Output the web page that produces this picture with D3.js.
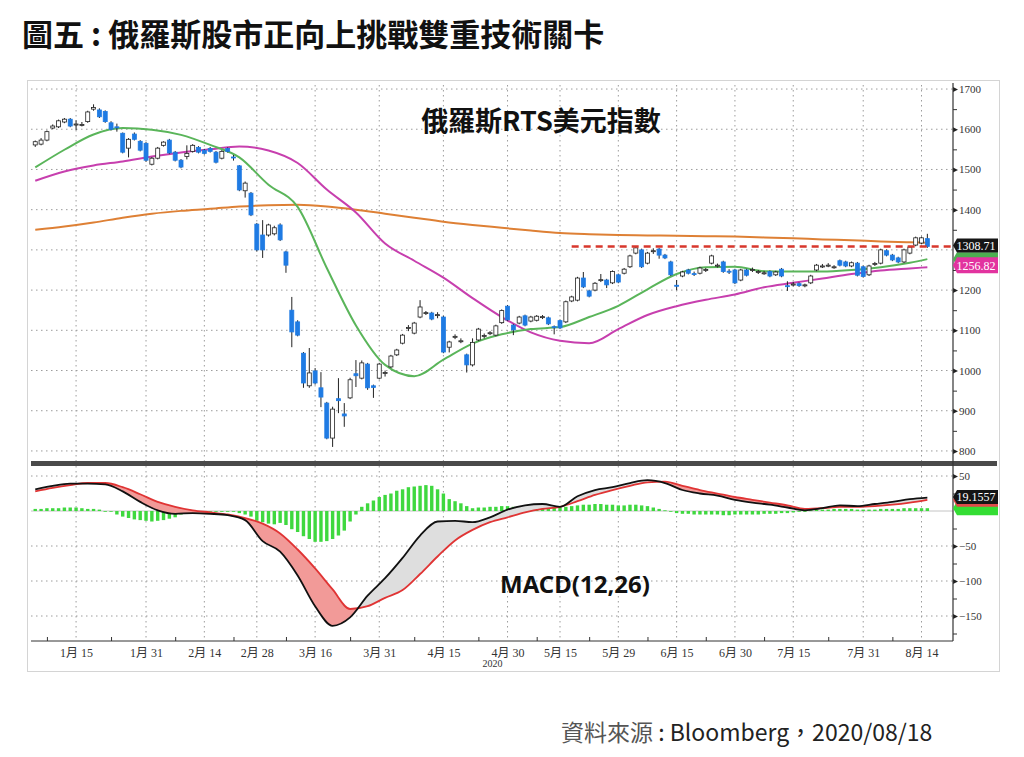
<!DOCTYPE html>
<html>
<head>
<meta charset="utf-8">
<script src="https://cdn.jsdelivr.net/npm/d3@7"></script>
<style>
  body { margin: 0; background: #fff; }
</style>
</head>
<body>
<svg></svg>
<script>
// trading calendar: weekdays from Jan 3 to Aug 17 2020, minus Moscow exchange holidays
const holidays = ["2020-01-07", "2020-02-24", "2020-03-09", "2020-05-01", "2020-05-11", "2020-06-12", "2020-06-24", "2020-07-01"];
const tickDates = ["2020-01-15", "2020-01-31", "2020-02-14", "2020-02-28", "2020-03-16", "2020-03-31", "2020-04-15", "2020-04-30",
  "2020-05-15", "2020-05-29", "2020-06-15", "2020-06-30", "2020-07-15", "2020-07-31", "2020-08-14"];

// daily candles (RTS index, USD)
const opens = [1561,1563,1573,1603,1606,1618,1625,1612,1610,1619,1650,1648,1644,1616,1606,1590,1553,1588,1570,1565,
  1513,1528,1560,1573,1543,1523,1532,1545,1555,1548,1552,1543,1528,1552,1531,1509,1447,1441,1364,1337,
  1337,1340,1362,1295,1150,1121,1043,962,999,957,919,832,930,892,932,992,981,1016,962,981,
  993,1009,1039,1068,1105,1093,1133,1142,1143,1137,1133,1058,1083,1072,1039,1014,1076,1085,1092,1088,
  1119,1160,1113,1118,1136,1123,1125,1132,1131,1109,1124,1121,1173,1175,1230,1198,1200,1224,1225,1218,
  1238,1242,1258,1292,1300,1267,1296,1302,1287,1270,1212,1235,1250,1241,1242,1249,1267,1261,1270,1247,
  1250,1225,1250,1249,1244,1242,1246,1238,1252,1211,1214,1216,1211,1218,1250,1259,1261,1257,1273,1270,
  1260,1267,1258,1238,1264,1267,1298,1287,1280,1270,1292,1312,1317,1328];
const highs = [1572,1578,1597,1612,1624,1628,1628,1622,1618,1646,1662,1652,1647,1620,1614,1592,1578,1592,1573,1568,
  1531,1556,1570,1576,1546,1526,1560,1563,1558,1551,1556,1546,1548,1555,1536,1511,1470,1444,1367,1374,
  1365,1360,1366,1298,1183,1125,1046,1056,1006,996,922,910,981,919,982,1026,1025,1019,965,1019,
  1000,1039,1054,1091,1113,1121,1175,1148,1146,1145,1136,1074,1090,1080,1042,1080,1106,1092,1098,1114,
  1152,1163,1116,1136,1139,1136,1138,1138,1134,1112,1127,1174,1186,1233,1245,1201,1220,1240,1228,1249,
  1241,1255,1288,1308,1303,1295,1304,1305,1290,1273,1225,1248,1253,1246,1258,1255,1288,1266,1273,1252,
  1253,1253,1253,1256,1250,1248,1249,1248,1255,1222,1220,1219,1216,1238,1265,1265,1267,1262,1276,1273,
  1271,1270,1261,1263,1270,1303,1301,1290,1283,1303,1310,1333,1333,1340];
const lows = [1556,1560,1570,1600,1603,1615,1605,1598,1607,1616,1646,1628,1616,1597,1594,1540,1530,1572,1545,1519,
  1510,1525,1557,1538,1520,1503,1525,1542,1540,1537,1542,1515,1525,1542,1522,1446,1430,1384,1296,1280,
  1333,1336,1322,1243,1058,1085,957,957,965,909,829,810,894,860,929,959,978,952,932,978,
  985,1006,1036,1065,1098,1090,1130,1138,1125,1130,1043,1045,1078,1068,995,1010,1073,1080,1088,1085,
  1116,1123,1088,1115,1110,1120,1122,1128,1113,1090,1103,1118,1170,1172,1205,1182,1197,1220,1205,1215,
  1217,1239,1255,1289,1255,1264,1290,1278,1277,1235,1200,1232,1239,1235,1239,1245,1264,1256,1243,1240,
  1215,1222,1234,1245,1240,1238,1232,1235,1232,1198,1209,1208,1207,1215,1247,1255,1257,1253,1259,1257,
  1257,1234,1231,1235,1260,1264,1284,1272,1267,1267,1289,1309,1314,1305];
const closes = [1569,1573,1594,1608,1621,1625,1608,1613,1612,1643,1654,1631,1619,1600,1604,1543,1575,1575,1548,1523,
  1528,1553,1568,1541,1523,1506,1540,1560,1543,1540,1545,1518,1545,1545,1529,1449,1466,1387,1300,1300,
  1362,1355,1325,1262,1096,1088,969,994,969,934,832,904,925,887,977,987,1019,957,958,1016,
  995,1036,1051,1088,1107,1118,1158,1144,1128,1139,1046,1071,1085,1074,1014,1070,1103,1087,1094,1111,
  1149,1126,1101,1133,1113,1133,1135,1134,1116,1107,1106,1171,1183,1230,1208,1185,1217,1226,1213,1246,
  1220,1252,1285,1305,1258,1292,1298,1287,1280,1238,1210,1245,1242,1240,1255,1251,1285,1262,1246,1246,
  1218,1250,1237,1251,1246,1243,1235,1245,1235,1210,1215,1211,1213,1235,1262,1260,1262,1258,1262,1260,
  1268,1237,1234,1260,1266,1300,1287,1275,1270,1300,1307,1330,1330,1308.71];

// moving averages, sampled every 5 sessions
const maIdx = [0,5,10,15,20,25,30,35,40,45,50,55,60,65,70,75,80,85,90,95,100,105,110,115,120,125,130,135,140,145,150,153];
const maShort = [1505,1549,1587,1603,1599,1586,1561,1530,1462,1407,1255,1112,1014,986,1027,1067,1090,1103,1108,1133,
  1161,1202,1240,1257,1258,1247,1246,1246,1250,1257,1268,1277];
const maMid = [1472,1495,1510,1520,1532,1542,1550,1557,1547,1516,1450,1393,1316,1273,1231,1180,1133,1095,1074,1068,
  1103,1138,1160,1176,1189,1207,1218,1229,1240,1249,1254,1256.82];
const maLong = [1350,1358,1368,1380,1390,1397,1402,1408,1411,1412,1408,1400,1390,1380,1370,1362,1355,1348,1342,1339,
  1337,1336,1335,1334,1333,1331,1329,1326,1324,1321,1319,1318];
const resistLevel = 1308.71;
const resistFrom = 92;

// MACD(12,26), sampled every 3 sessions
const macdIdx = d3.range(0, 154, 3);
const macdVals = [31,36,39,39,38,28,13,1,-4,-3,-4,-6,-13,-43,-58,-92,-136,-164,-152,-121,-96,-67,-35,-15,-14,-16,
  -9,2,8,10,6,21,30,34,40,44,40,30,25,22,16,12,9,5,1,4,8,7,10,13,17,19.1557];
const signalVals = [28,33,37,40,40,34,24,13,6,1,-2,-5,-10,-18,-32,-55,-82,-112,-140,-136,-124,-113,-90,-65,-42,-27,
  -16,-9,-2,3,6,14,23,30,36,41,42,36,30,25,20,16,12,8,3,4,6,6,7,9,12,16];
// daily histogram
const histVals = [3,3,4,4,4,5,5,5,4,3,3,2,0,-1,-5,-8,-10,-12,-13,-14,-15,-14,-13,-11,-9,-5,-3,-2,-1,-1,
  0,0,0,-1,-1,-3,-5,-8,-14,-16,-18,-19,-17,-20,-26,-30,-36,-40,-44,-44,-43,-40,-35,-28,-15,-5,6,11,15,20,
  23,25,29,31,34,35,36,37,36,31,25,17,14,11,7,4,5,5,6,6,7,7,6,6,6,6,7,7,6,5,
  5,6,7,8,9,9,10,10,9,9,8,8,9,9,8,7,5,3,1,-1,-3,-4,-4,-5,-5,-5,-5,-5,-6,-6,
  -5,-5,-5,-5,-5,-4,-4,-4,-3,-3,-2,-1,0,1,2,2,2,3,3,3,3,2,2,2,2,3,3,3,3,4,
  4,4,4,4];

const priceTicks = [800, 900, 1000, 1100, 1200, 1300, 1400, 1500, 1600, 1700];
const priceMinor = [850, 950, 1050, 1150, 1250, 1350, 1450, 1550, 1650];
const macdTicks = [50, 0, -50, -100, -150];
const macdMinor = [25, -25, -75, -125, -175];

const width = 1024;
const height = 757;
const plot = { left: 31, right: 953, top: 83, sep: 461, macdTop: 466, bottom: 641 };

const fmtKey = d3.timeFormat("%Y-%m-%d");
const tradingDays = d3.timeDay
  .range(new Date(2020, 0, 3), new Date(2020, 7, 18))
  .filter((d) => d.getDay() !== 0 && d.getDay() !== 6 && !holidays.includes(fmtKey(d)));
const dayKeys = tradingDays.map(fmtKey);
const tickIdx = tickDates.map((k) => dayKeys.indexOf(k));
const tickLabel = (i) => {
  const d = tradingDays[i];
  return `${d.getMonth() + 1}月 ${d.getDate()}`;
};

const svg = d3.select("svg").attr("width", width).attr("height", height);
svg.append("rect").attr("width", width).attr("height", height).attr("fill", "#fff");

const xScale = d3.scaleLinear().domain([-0.9, 157.4]).range([30, plot.right]);
const yPrice = d3.scaleLinear().domain([775, 1715]).range([plot.sep, plot.top]);
const yMacd = d3.scaleLinear().domain([-185.7, 64.3]).range([plot.bottom, plot.macdTop]);

// title and source
svg.append("text")
  .attr("x", 22).attr("y", 46)
  .attr("font-family", "'Noto Sans CJK TC', 'Noto Sans CJK SC', sans-serif")
  .attr("font-size", 31).attr("font-weight", "bold").attr("fill", "#111")
  .text("圖五 : 俄羅斯股市正向上挑戰雙重技術關卡");

const src = svg.append("text")
  .attr("x", 561).attr("y", 741)
  .attr("font-family", "'Noto Sans CJK TC', 'Noto Sans', sans-serif")
  .attr("font-size", 23).attr("fill", "#222");
src.append("tspan").attr("fill", "#555").text("資料來源");
src.append("tspan").text(" : Bloomberg，2020/08/18");

// frame
svg.append("rect")
  .attr("x", 27.5).attr("y", 80.5).attr("width", 972).attr("height", 591)
  .attr("fill", "none").attr("stroke", "#d4d4d4");

// grid
const grid = svg.append("g").attr("stroke", "#9c9c9c").attr("stroke-dasharray", "1.5,3.5");
grid.selectAll(".hp").data(priceTicks).enter().append("line")
  .attr("x1", plot.left).attr("x2", plot.right)
  .attr("y1", (d) => yPrice(d)).attr("y2", (d) => yPrice(d));
grid.selectAll(".hm").data(macdTicks.filter((d) => d !== 0)).enter().append("line")
  .attr("x1", plot.left).attr("x2", plot.right)
  .attr("y1", (d) => yMacd(d)).attr("y2", (d) => yMacd(d));
grid.selectAll(".vp").data(tickIdx).enter().append("line")
  .attr("x1", (d) => xScale(d)).attr("x2", (d) => xScale(d))
  .attr("y1", plot.top + 2).attr("y2", plot.sep);
grid.selectAll(".vm").data(tickIdx).enter().append("line")
  .attr("x1", (d) => xScale(d)).attr("x2", (d) => xScale(d))
  .attr("y1", plot.macdTop).attr("y2", plot.bottom);

svg.append("line")
  .attr("x1", plot.left).attr("x2", plot.right)
  .attr("y1", yMacd(0)).attr("y2", yMacd(0))
  .attr("stroke", "#c4c4c4").attr("stroke-width", 1);

// moving averages
const maLine = d3.line()
  .x((d) => xScale(d[0]))
  .y((d) => yPrice(d[1]))
  .curve(d3.curveMonotoneX);

[[maLong, "#de8035"], [maMid, "#c73fae"], [maShort, "#5ab55a"]].forEach(([vals, color]) => {
  svg.append("path")
    .datum(maIdx.map((i, k) => [i, vals[k]]))
    .attr("fill", "none")
    .attr("stroke", color)
    .attr("stroke-width", 2)
    .attr("d", maLine);
});

// candles
const candles = closes.map((c, i) => ({ i, o: opens[i], h: highs[i], l: lows[i], c }));
const cg = svg.append("g");
cg.selectAll(".wick").data(candles).enter().append("line")
  .attr("x1", (d) => xScale(d.i)).attr("x2", (d) => xScale(d.i))
  .attr("y1", (d) => yPrice(d.h)).attr("y2", (d) => yPrice(d.l))
  .attr("stroke", "#222").attr("stroke-width", 1);
cg.selectAll(".body").data(candles).enter().append("rect")
  .attr("x", (d) => xScale(d.i) - 2)
  .attr("y", (d) => yPrice(Math.max(d.o, d.c)))
  .attr("width", 4)
  .attr("height", (d) => Math.max(1, Math.abs(yPrice(d.o) - yPrice(d.c))))
  .attr("fill", (d) => (d.c >= d.o ? "#fff" : "#1f7be3"))
  .attr("stroke", (d) => (d.c >= d.o ? "#222" : "#1f7be3"))
  .attr("stroke-width", 0.8);

// resistance
svg.append("line")
  .attr("x1", xScale(resistFrom)).attr("x2", plot.right)
  .attr("y1", yPrice(resistLevel)).attr("y2", yPrice(resistLevel))
  .attr("stroke", "#d8372c").attr("stroke-width", 2.5).attr("stroke-dasharray", "7,5");

// MACD panel
const zero = yMacd(0);
svg.append("g").selectAll("rect").data(histVals).enter().append("rect")
  .attr("x", (d, i) => xScale(i) - 1.7)
  .attr("y", (d) => Math.min(zero, yMacd(d)))
  .attr("width", 3.4)
  .attr("height", (d) => Math.max(0.8, Math.abs(yMacd(d) - zero)))
  .attr("fill", "#3fd83f");

const macdData = macdIdx.map((i, k) => ({ i, m: macdVals[k], s: signalVals[k] }));
const curve = d3.curveMonotoneX;
const defs = svg.append("defs");
defs.append("clipPath").attr("id", "clip-above").append("path")
  .datum(macdData)
  .attr("d", d3.area().x((d) => xScale(d.i)).y0(plot.macdTop - 20).y1((d) => yMacd(d.s)).curve(curve));
defs.append("clipPath").attr("id", "clip-below").append("path")
  .datum(macdData)
  .attr("d", d3.area().x((d) => xScale(d.i)).y0(plot.bottom + 20).y1((d) => yMacd(d.s)).curve(curve));

const between = d3.area().x((d) => xScale(d.i)).y0((d) => yMacd(d.s)).y1((d) => yMacd(d.m)).curve(curve);
svg.append("path").datum(macdData).attr("d", between)
  .attr("fill", "#dedede").attr("clip-path", "url(#clip-above)");
svg.append("path").datum(macdData).attr("d", between)
  .attr("fill", "#f29a98").attr("clip-path", "url(#clip-below)");

svg.append("path").datum(macdData)
  .attr("d", d3.line().x((d) => xScale(d.i)).y((d) => yMacd(d.s)).curve(curve))
  .attr("fill", "none").attr("stroke", "#e03434").attr("stroke-width", 1.8);
svg.append("path").datum(macdData)
  .attr("d", d3.line().x((d) => xScale(d.i)).y((d) => yMacd(d.m)).curve(curve))
  .attr("fill", "none").attr("stroke", "#111").attr("stroke-width", 1.8);

// separator between panels
svg.append("rect")
  .attr("x", plot.left).attr("y", plot.sep).attr("width", 997 - plot.left).attr("height", 5)
  .attr("fill", "#4a4a4a");

// last-value tags sit on the right axis and cover the tick labels behind them
const priceTags = [yPrice(closes[closes.length - 1]), yPrice(maMid[maMid.length - 1])];
const macdTags = [yMacd(macdVals[macdVals.length - 1]), yMacd(histVals[histVals.length - 1])];
const visible = (scale, tags) => (v) => tags.every((t) => Math.abs(scale(v) - t) > 9);

// right axes
const axisFont = "'Liberation Serif', 'DejaVu Serif', serif";
const styleRight = (g) => {
  g.select(".domain").remove();
  g.selectAll(".tick line").remove();
  g.selectAll(".tick").append("path").attr("d", "M0,-2.5L5,0L0,2.5Z").attr("fill", "#222");
  g.selectAll(".tick text").attr("x", 6).attr("font-family", axisFont).attr("font-size", 11).attr("fill", "#333");
};
svg.append("g").attr("transform", `translate(${plot.right},0)`)
  .call(d3.axisRight(yPrice).tickValues(priceTicks.filter(visible(yPrice, priceTags))).tickFormat(d3.format("d")))
  .call(styleRight);
svg.append("g").attr("transform", `translate(${plot.right},0)`)
  .call(d3.axisRight(yMacd).tickValues(macdTicks.filter(visible(yMacd, macdTags))).tickFormat(d3.format("d")))
  .call(styleRight);
[[yPrice, priceMinor], [yMacd, macdMinor]].forEach(([scale, vals]) => {
  svg.append("g").attr("transform", `translate(${plot.right},0)`)
    .call(d3.axisRight(scale).tickValues(vals).tickSize(4).tickFormat(""))
    .call((g) => g.select(".domain").remove())
    .selectAll("line").attr("stroke", "#333");
});
svg.append("line")
  .attr("x1", plot.right).attr("x2", plot.right).attr("y1", plot.top).attr("y2", plot.bottom)
  .attr("stroke", "#333").attr("stroke-width", 1.2);

// bottom axis
const midIdx = [2].concat(tickIdx.slice(1).map((d, k) => Math.round((d + tickIdx[k]) / 2)));
svg.append("g").attr("transform", `translate(0,${plot.bottom})`)
  .call(d3.axisBottom(xScale).tickValues(midIdx).tickSize(-4).tickSizeOuter(0).tickFormat(""))
  .call((g) => g.select(".domain").remove())
  .selectAll("line").attr("stroke", "#333");
const xAxis = svg.append("g").attr("transform", `translate(0,${plot.bottom})`)
  .call(d3.axisBottom(xScale).tickValues(tickIdx).tickSize(0).tickSizeOuter(0).tickPadding(7).tickFormat(tickLabel));
xAxis.select(".domain").attr("stroke", "#333").attr("d", `M${plot.left},0H${plot.right}`);
xAxis.selectAll(".tick text")
  .attr("font-family", "'Liberation Serif', 'Noto Sans CJK TC', serif")
  .attr("font-size", 12).attr("fill", "#333");
svg.append("text")
  .attr("x", xScale(tickIdx[7]) - 15).attr("y", 667)
  .attr("text-anchor", "middle")
  .attr("font-family", axisFont).attr("font-size", 10).attr("fill", "#333")
  .text("2020");

const tag = (yc, color, text, half = 7) => {
  const g = svg.append("g");
  g.append("path")
    .attr("d", `M${plot.right},${yc}L${plot.right + 4},${yc - half}H998V${yc + half}H${plot.right + 4}Z`)
    .attr("fill", color);
  if (text) {
    g.append("text")
      .attr("x", 976).attr("y", yc).attr("dy", "0.36em")
      .attr("text-anchor", "middle")
      .attr("font-family", axisFont).attr("font-size", 12).attr("fill", "#fff")
      .text(text);
  }
};
tag(yPrice(maShort[maShort.length - 1]), "#4caf50");
tag(priceTags[1] - 2, "#e2339f", d3.format(".2f")(maMid[maMid.length - 1]), 8);
tag(priceTags[0] - 1, "#151515", d3.format(".2f")(closes[closes.length - 1]));
tag(macdTags[1], "#33dd33");
tag(yMacd(signalVals[signalVals.length - 1]), "#e04a4a");
tag(macdTags[0] - 0.5, "#151515", d3.format(".4f")(macdVals[macdVals.length - 1]));

// panel captions
svg.append("text")
  .attr("x", 541).attr("y", 131).attr("text-anchor", "middle")
  .attr("font-family", "'Noto Sans CJK TC', sans-serif")
  .attr("font-size", 27).attr("font-weight", "bold").attr("fill", "#111")
  .text("俄羅斯RTS美元指數");
svg.append("text")
  .attr("x", 575).attr("y", 593).attr("text-anchor", "middle")
  .attr("font-family", "'Noto Sans', 'Noto Sans CJK TC', sans-serif")
  .attr("font-size", 24).attr("font-weight", "bold").attr("fill", "#111")
  .text("MACD(12,26)");
</script>
</body>
</html>
